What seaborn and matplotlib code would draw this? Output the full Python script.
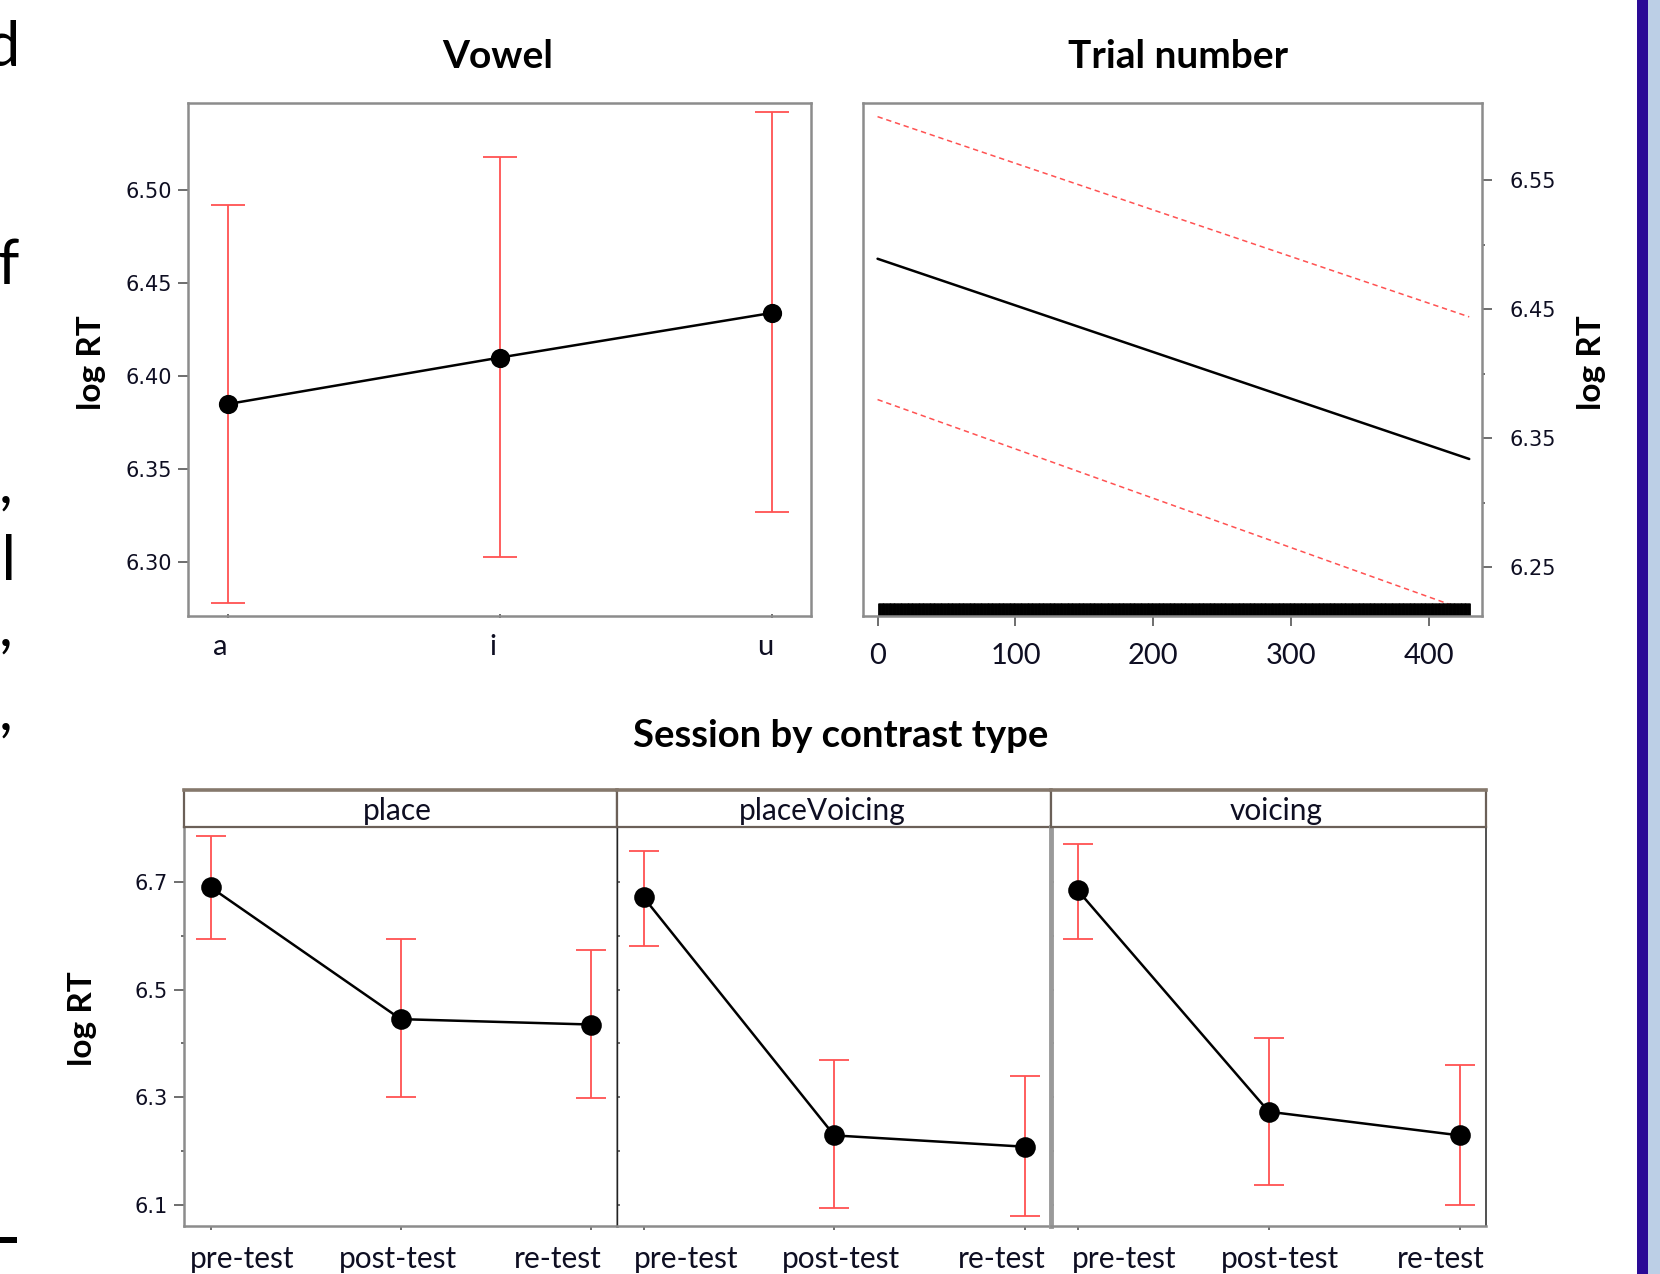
import numpy as np
import matplotlib
matplotlib.use('Agg')
import matplotlib.pyplot as plt
import matplotlib.transforms as mtransforms
from matplotlib.patches import Rectangle
from matplotlib.ticker import FormatStrFormatter
import seaborn as sns

# --- data ---
vowels = ['a', 'i', 'u']
vowel_fit = [6.385, 6.410, 6.434]
vowel_lower = [6.278, 6.303, 6.327]
vowel_upper = [6.492, 6.518, 6.542]

# trial number effect is a straight line, so two ends are enough
trial_x = [0, 429]
trial_fit = [6.489, 6.334]
trial_lower = [6.380, 6.216]
trial_upper = [6.599, 6.444]
trial_first, trial_last = 1, 429

sessions = ['pre-test', 'post-test', 're-test']
contrasts = ['place', 'placeVoicing', 'voicing']
place_fit = [6.690, 6.445, 6.435]
place_lower = [6.594, 6.300, 6.299]
place_upper = [6.785, 6.594, 6.573]
pv_fit = [6.671, 6.229, 6.208]
pv_lower = [6.581, 6.094, 6.080]
pv_upper = [6.757, 6.369, 6.339]
voicing_fit = [6.684, 6.273, 6.229]
voicing_lower = [6.594, 6.137, 6.100]
voicing_upper = [6.771, 6.410, 6.359]

sns.set_style('white')
plt.rcParams['font.family'] = ['DejaVu Sans']

W, H = 1660, 1274
fig = plt.figure(figsize=(W / 100, H / 100), dpi=100)

RED = '#ff5252'
SPINE = '#8c8c8c'
TXT = '#0e0e22'
LAB = 'Lato'


def px_axes(x0, y0, x1, y1):
    return fig.add_axes([x0 / W, 1 - y1 / H, (x1 - x0) / W, (y1 - y0) / H])


def shift_labels(labels, offsets):
    for lab, dx in zip(labels, offsets):
        lab.set_transform(lab.get_transform() +
                          mtransforms.ScaledTranslation(dx / 100, 0, fig.dpi_scale_trans))


def style_spines(ax, color=SPINE, lw=1.8):
    for s in ax.spines.values():
        s.set_visible(True)
        s.set_color(color)
        s.set_linewidth(lw)


def effect_panel(ax, cats, fit, lower, upper, cap, ms):
    pos = np.arange(len(cats))
    ax.errorbar(pos, fit, yerr=[np.subtract(fit, lower), np.subtract(upper, fit)],
                fmt='none', ecolor=RED, elinewidth=1.3, capsize=cap, capthick=1.3, zorder=1)
    sns.pointplot(x=cats, y=fit, color='black', errorbar=None, ax=ax,
                  markersize=ms, linewidth=1.8, zorder=3)
    ax.set_xlabel('')
    ax.set_ylabel('')


# ---------------- Vowel ----------------
ax1 = px_axes(188.4, 102.7, 811.0, 616.2)
effect_panel(ax1, vowels, vowel_fit, vowel_lower, vowel_upper, cap=12, ms=12.5)
ax1.set_xlim(-0.144, 2.144)
ax1.set_ylim(6.271, 6.547)
ax1.set_yticks([6.30, 6.35, 6.40, 6.45, 6.50])
ax1.yaxis.set_major_formatter(FormatStrFormatter('%.2f'))
style_spines(ax1)
ax1.tick_params(axis='y', direction='out', length=7, width=1.2, color='#555555',
                labelsize=15, labelcolor=TXT, pad=5, left=True)
ax1.tick_params(axis='x', direction='inout', length=3, width=1.2, color='#555555',
                labelsize=21, labelcolor=TXT, pad=11, bottom=True)
for lab in ax1.get_xticklabels():
    lab.set_fontfamily(LAB)
shift_labels(ax1.get_xticklabels(), [-7, -7, -7])

# ---------------- Trial number ----------------
ax2 = px_axes(862.8, 102.7, 1482.2, 616.2)
sns.lineplot(x=trial_x, y=trial_upper, color=RED, linewidth=1.1, linestyle=(0, (3.5, 2.5)), ax=ax2)
sns.lineplot(x=trial_x, y=trial_lower, color=RED, linewidth=1.1, linestyle=(0, (3.5, 2.5)), ax=ax2)
sns.lineplot(x=trial_x, y=trial_fit, color='black', linewidth=1.8, ax=ax2)
sns.rugplot(x=np.arange(trial_first, trial_last + 1), height=0.026, color='black',
            linewidth=2, expand_margins=False, ax=ax2)
ax2.set_xlim(-10.7, 438.4)
ax2.set_ylim(6.2123, 6.6098)
ax2.set_xticks([0, 100, 200, 300, 400])
ax2.yaxis.tick_right()
ax2.set_yticks([6.25, 6.35, 6.45, 6.55])
ax2.set_yticks([6.30, 6.40, 6.50], minor=True)
ax2.yaxis.set_major_formatter(FormatStrFormatter('%.2f'))
style_spines(ax2)
ax2.tick_params(axis='y', which='major', direction='out', length=7, width=1.2, color='#555555',
                labelsize=15, labelcolor=TXT, pad=13, right=True, left=False)
ax2.tick_params(axis='y', which='minor', direction='out', length=2, width=1.2, color='#555555',
                right=True, left=False)
ax2.tick_params(axis='x', direction='out', length=7, width=1.2, color='#555555',
                labelsize=21, labelcolor=TXT, pad=12, bottom=True)
for lab in ax2.get_xticklabels():
    lab.set_fontfamily(LAB)

fig.text(497.6 / W, 1 - 56 / H, 'Vowel', ha='center', va='center',
         fontsize=28, fontweight='bold', family=LAB, color='black')
fig.text(1178 / W, 1 - 56 / H, 'Trial number', ha='center', va='center',
         fontsize=28, fontweight='bold', family=LAB, color='black')
fig.text(92 / W, 1 - 363 / H, 'log RT', ha='center', va='center', rotation=90,
         fontsize=24, fontweight='bold', family=LAB, color='black')
fig.text(1591 / W, 1 - 363 / H, 'log RT', ha='center', va='center', rotation=90,
         fontsize=24, fontweight='bold', family=LAB, color='black')

# ---------------- Session by contrast type ----------------
fig.text(840.6 / W, 1 - 735.8 / H, 'Session by contrast type', ha='center', va='center',
         fontsize=27.5, fontweight='bold', family=LAB, color='black')
fig.text(82.6 / W, 1 - 1019 / H, 'log RT', ha='center', va='center', rotation=90,
         fontsize=24, fontweight='bold', family=LAB, color='black')

panel_x = [(184.2, 617.2), (617.2, 1051.3), (1051.3, 1486.4)]
panel_data = [(place_fit, place_lower, place_upper),
              (pv_fit, pv_lower, pv_upper),
              (voicing_fit, voicing_lower, voicing_upper)]
label_shift = [[32, -3, -33], [42, 7, -23], [46, 11, -19]]
strip_shift = [-3.2, -11.6, 7.4]

for i, ((x0, x1), name, (fit, lo, up)) in enumerate(zip(panel_x, contrasts, panel_data)):
    ax = px_axes(x0, 826.8, x1, 1226.0)
    effect_panel(ax, sessions, fit, lo, up, cap=11, ms=13.5)
    ax.set_xlim(-0.139, 2.139)
    ax.set_ylim(6.0607, 6.8023)
    ax.set_yticks([6.1, 6.3, 6.5, 6.7])
    ax.set_yticks([6.2, 6.4, 6.6], minor=True)
    ax.yaxis.set_major_formatter(FormatStrFormatter('%.1f'))
    style_spines(ax, lw=1.8)
    ax.spines['top'].set_visible(False)
    if i == 1:
        ax.spines['left'].set_color('#222222')
        ax.spines['left'].set_linewidth(1.0)
    if i == 2:
        ax.spines['left'].set_linewidth(3.5)
        ax.spines['left'].set_color('#9a9a9a')
        ax.spines['right'].set_color('#333333')
        ax.spines['right'].set_linewidth(1.2)
    if i == 0:
        ax.tick_params(axis='y', which='major', direction='out', length=7, width=1.2,
                       color='#555555', labelsize=15, labelcolor=TXT, pad=5, left=True)
        ax.tick_params(axis='y', which='minor', direction='out', length=2, width=1.2,
                       color='#555555', left=True)
    else:
        ax.tick_params(axis='y', which='both', direction='in', length=2, width=1.2,
                       color='#555555', labelleft=False, left=True)
    ax.tick_params(axis='x', direction='out', length=3, width=1.2, color='#555555',
                   labelsize=21.5, labelcolor=TXT, pad=11, bottom=True)
    for lab in ax.get_xticklabels():
        lab.set_fontfamily(LAB)
    shift_labels(ax.get_xticklabels(), label_shift[i])

    sax = px_axes(x0, 789.8, x1, 826.8)
    sax.set_xticks([])
    sax.set_yticks([])
    sax.set_facecolor('white')
    style_spines(sax, color='#6b6058', lw=1.6)
    sax.spines['top'].set_linewidth(2.6)
    sax.spines['top'].set_color('#85786c')
    sax.text(0.5 + strip_shift[i] / (x1 - x0), 0.42, name, ha='center', va='center',
             fontsize=21.5, family=LAB, color=TXT, transform=sax.transAxes)

# ---------------- slide fragments at the edges ----------------
for txt, base, right in [('d', 66, 20), ('f', 284, 19), (',', 503, 13),
                         ('al', 580, 16), (',', 646, 13), (',', 730, 13)]:
    fig.text(right / W, 1 - base / H, txt, ha='right', va='baseline',
             fontsize=44, family=LAB, color='black')
fig.add_artist(Rectangle((0, 1 - 1243 / H), 17 / W, 6 / H, transform=fig.transFigure,
                         color='black', lw=0))
fig.add_artist(Rectangle((1636.7 / W, 0), 11.3 / W, 1, transform=fig.transFigure,
                         color='#2a0a96', lw=0))
fig.add_artist(Rectangle((1648 / W, 0), 12 / W, 1, transform=fig.transFigure,
                         color='#bccfe6', lw=0))

fig.savefig('out.png', dpi=100)
